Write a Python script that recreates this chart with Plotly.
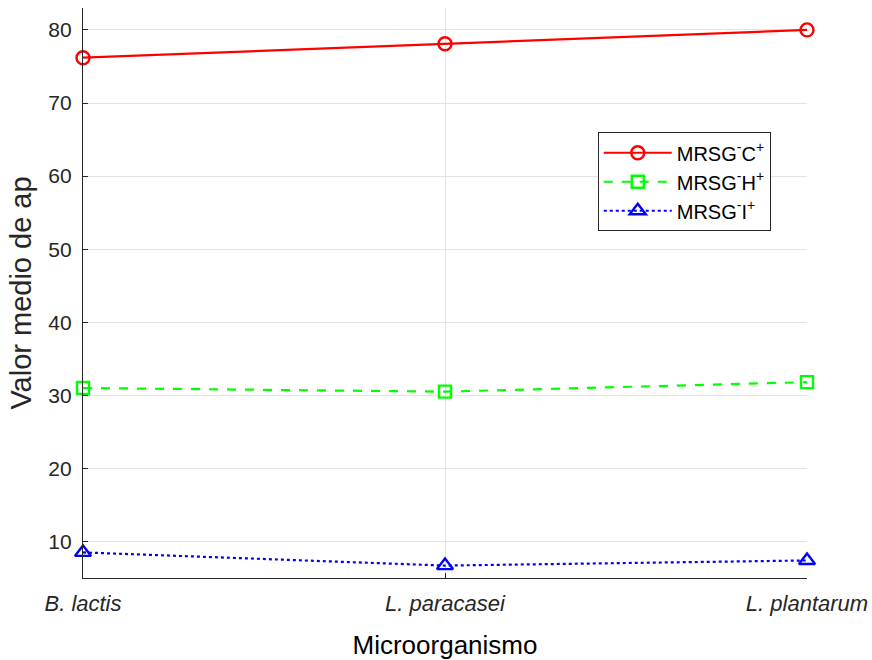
import plotly.graph_objects as go

categories = ["B. lactis", "L. paracasei", "L. plantarum"]
tick_labels = ["<i>B. lactis</i>", "<i>L. paracasei</i>", "<i>L. plantarum</i>"]
mrsg_c = [76.2, 78.1, 80.0]
mrsg_h = [31.0, 30.5, 31.8]
mrsg_i = [8.5, 6.7, 7.4]
y_ticks = [10, 20, 30, 40, 50, 60, 70, 80]

FONT = "Liberation Sans, Arial, sans-serif"
x_idx = list(range(len(categories)))

fig = go.Figure()
fig.add_trace(go.Scatter(
    x=x_idx, y=mrsg_c, mode="lines+markers",
    name="MRSG<sup>-</sup>C<sup>+</sup>",
    line=dict(color="#ff0000", width=2.2, dash="solid"),
    marker=dict(symbol="circle-open", size=13, color="#ff0000", line=dict(width=2.4)),
    cliponaxis=False))
fig.add_trace(go.Scatter(
    x=x_idx, y=mrsg_h, mode="lines+markers",
    name="MRSG<sup>-</sup>H<sup>+</sup>",
    line=dict(color="#00ff00", width=2.2, dash="dash"),
    marker=dict(symbol="square-open", size=12, color="#00ff00", line=dict(width=2.4)),
    cliponaxis=False))
fig.add_trace(go.Scatter(
    x=x_idx, y=mrsg_i, mode="lines+markers",
    name="MRSG<sup>-</sup>I<sup>+</sup>",
    line=dict(color="#0000ff", width=2.2, dash="dot"),
    marker=dict(symbol="triangle-up-open", size=14, color="#0000ff", line=dict(width=2.4)),
    cliponaxis=False))

fig.update_layout(
    width=872, height=660,
    margin=dict(l=83, r=65, t=8, b=82),
    paper_bgcolor="white", plot_bgcolor="white",
    font=dict(family=FONT, color="#262626"),
    xaxis=dict(
        tickmode="array", tickvals=x_idx, ticktext=tick_labels,
        range=[0, 2], showgrid=True, gridcolor="#e3e3e3", gridwidth=1,
        showline=True, linecolor="#262626", linewidth=1.3,
        ticks="inside", ticklen=5, tickcolor="#262626",
        ticklabelstandoff=5, automargin=False,
        tickfont=dict(size=22, color="#262626", family=FONT),
        title=dict(text="Microorganismo", font=dict(size=26, color="#000000", family=FONT), standoff=24),
        zeroline=False, fixedrange=True),
    yaxis=dict(
        tickmode="array", tickvals=y_ticks,
        range=[5, 83], showgrid=True, gridcolor="#e3e3e3", gridwidth=1,
        showline=True, linecolor="#262626", linewidth=1.3,
        ticks="inside", ticklen=5, tickcolor="#262626",
        ticklabelstandoff=6, automargin=False,
        tickfont=dict(size=21, color="#262626", family=FONT),
        title=dict(text="Valor medio de ap", font=dict(size=29, color="#262626", family=FONT), standoff=8),
        zeroline=False),
    legend=dict(
        x=0.711, y=0.782, xanchor="left", yanchor="top",
        bgcolor="white", bordercolor="#262626", borderwidth=1,
        font=dict(size=20, color="#000000", family=FONT),
        itemwidth=68, tracegroupgap=0),
    showlegend=True,
)

fig.write_html("out.html")
